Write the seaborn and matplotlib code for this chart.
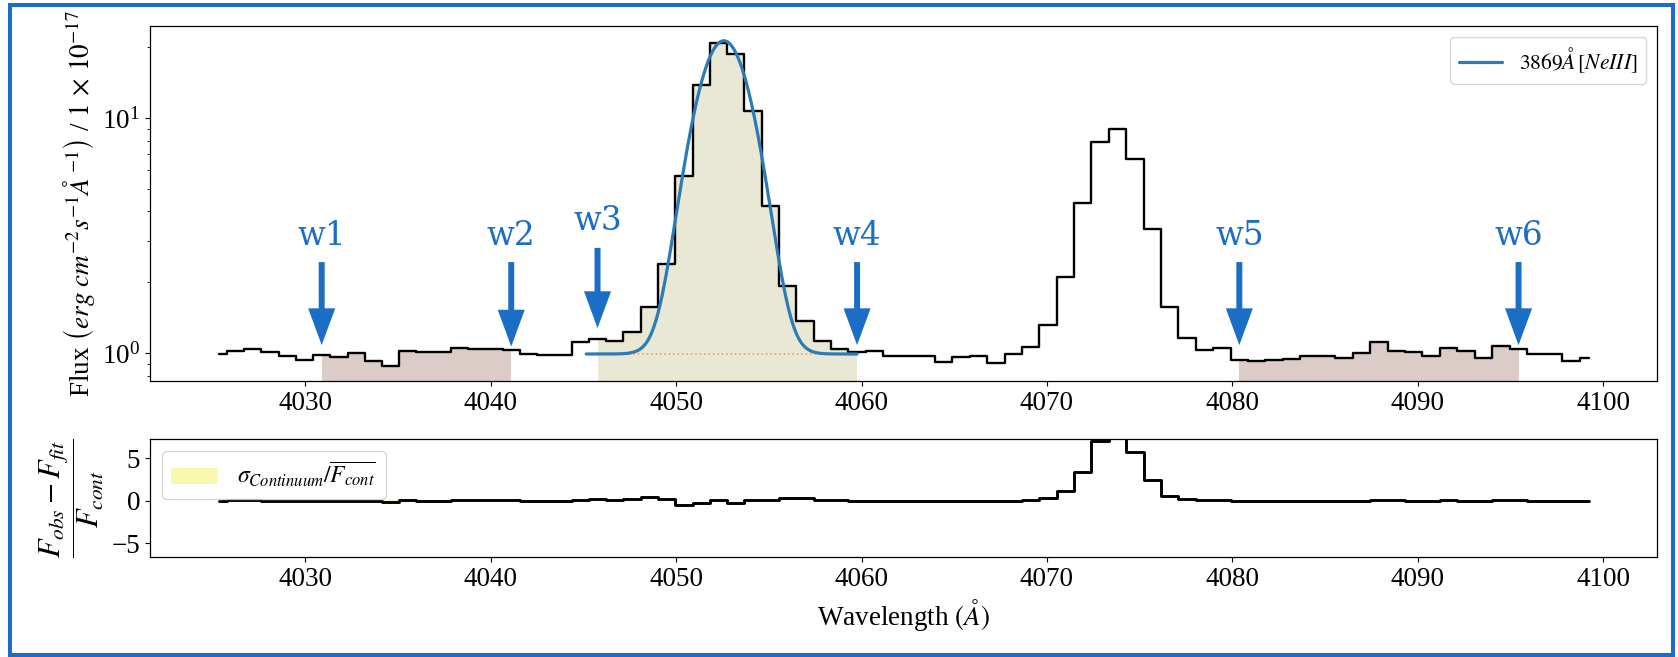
import numpy as np
import matplotlib
matplotlib.use("Agg")
import matplotlib.pyplot as plt
import seaborn as sns
from matplotlib.patches import Rectangle, FancyArrowPatch

# ---------------------------------------------------------------------------
# Spectrum: SDSS-style log-linear pixel grid (10^-4 dex per pixel)
# ---------------------------------------------------------------------------
loglam_start = 3.6048
loglam_step = 1e-4

flux = [
    0.990, 1.022, 1.036, 1.013, 0.968, 0.934, 0.981, 0.964, 1.003, 0.927,
    0.883, 1.020, 1.006, 1.006, 1.053, 1.040, 1.040, 1.026, 0.987, 0.985,
    0.980, 1.110, 1.146, 1.128, 1.231, 1.563, 2.400, 5.650, 13.80, 20.90,
    18.70, 10.75, 4.210, 1.930, 1.371, 1.128, 1.040, 1.013, 1.015, 0.968,
    0.968, 0.968, 0.918, 0.958, 0.968, 0.907, 0.990, 1.064, 1.315, 2.095,
    4.360, 7.910, 8.960, 6.700, 3.380, 1.563, 1.154, 1.025, 1.045, 0.932,
    0.920, 0.937, 0.943, 0.971, 0.971, 0.949, 0.997, 1.110, 1.023, 1.007,
    0.974, 1.050, 1.016, 0.952, 1.067, 1.040, 0.990, 0.990, 0.925, 0.952,
]

# Single-Gaussian fit of [NeIII] 3869 plus flat continuum
fit_center = 4052.57
fit_amplitude = 20.3
fit_sigma = 1.30
continuum_level = 0.99
fit_start = 4045.15

# Pixel-index windows: blue continuum (w1-w2), line (w3-w4), red continuum (w5-w6)
blue_window = (6, 17)
line_window = (22, 37)
red_window = (59, 75)
window_labels = ["w1", "w2", "w3", "w4", "w5", "w6"]

line_label = r"$3869\AA\,[NeIII]$"
sigma_label = r"$\sigma_{Continuum}/\overline{F_{cont}}$"

# ---------------------------------------------------------------------------
flux = np.asarray(flux)
wave = 10 ** (loglam_start + loglam_step * np.arange(flux.size))


def gaussian(x):
    return fit_amplitude * np.exp(-0.5 * ((x - fit_center) / fit_sigma) ** 2)


fit_x = np.linspace(fit_start, wave[line_window[1]], 400)
fit_y = continuum_level + gaussian(fit_x)
residual = (flux - (continuum_level + gaussian(wave))) / continuum_level
cont_idx = np.r_[blue_window[0]:blue_window[1] + 1, red_window[0]:red_window[1] + 1]
sigma_cont = np.std(flux[cont_idx]) / np.mean(flux[cont_idx])

# ---------------------------------------------------------------------------
sns.set_style("ticks")
plt.rcParams.update({
    "font.family": "serif",
    "font.serif": ["Liberation Serif", "DejaVu Serif"],
    "mathtext.fontset": "stix",
    "text.color": "black",
    "axes.labelcolor": "black",
    "axes.edgecolor": "black",
    "axes.linewidth": 0.9,
    "xtick.color": "black",
    "ytick.color": "black",
    "xtick.labelsize": 19.5,
    "ytick.labelsize": 19.5,
    "axes.labelsize": 19.5,
    "xtick.major.size": 3.5,
    "ytick.major.size": 3.5,
    "ytick.minor.size": 2.0,
    "xtick.major.width": 0.8,
    "ytick.major.width": 0.8,
    "ytick.minor.width": 0.6,
})

BLUE = "#1b6ec6"
FIT_BLUE = "#2c7bb6"

fig = plt.figure(figsize=(16.78, 6.57), dpi=100)
ax = fig.add_axes([0.0894, 0.4201, 0.8981, 0.5403])
ax2 = fig.add_axes([0.0894, 0.1522, 0.8981, 0.1796], sharex=ax)

# --- upper panel: spectrum, windows and fit --------------------------------
for (i0, i1), col in [(blue_window, (0.549, 0.337, 0.294, 0.30)),
                      (red_window, (0.549, 0.337, 0.294, 0.30)),
                      (line_window, "#e9e8d4")]:
    ax.fill_between(wave[i0:i1 + 1], 0.5, flux[i0:i1 + 1], step="mid",
                    color=col, lw=0, zorder=1)

sns.lineplot(x=wave, y=flux, drawstyle="steps-mid", color="black", lw=1.7,
             estimator=None, sort=False, ax=ax, zorder=3)
ax.hlines(continuum_level, wave[line_window[0]], wave[line_window[1]],
          colors="#f2a25e", linestyles=":", lw=1.2, zorder=2)
sns.lineplot(x=fit_x, y=fit_y, color=FIT_BLUE, lw=2.3, label=line_label,
             estimator=None, sort=False, ax=ax, zorder=4)

ax.set_yscale("log")
ax.set_ylim(0.76, 24.6)
span = wave[-1] - wave[0]
ax.set_xlim(wave[0] - 0.05 * span, wave[-1] + 0.05 * span)
ax.set_xticks(np.arange(4030, 4101, 10))
ax.set_ylabel(r"Flux $\left(erg\;cm^{-2}s^{-1}\AA^{-1}\right)$ / $1\,\times\,10^{-17}$",
              fontsize=19.5)
ax.set_xlabel("")
ax.legend(loc="upper right", fontsize=15.5, frameon=True)

# window markers
edges = [blue_window[0], blue_window[1], line_window[0], line_window[1],
         red_window[0], red_window[1]]
tip_frac = [0.101, 0.097, 0.149, 0.101, 0.101, 0.101]
tail_frac = [0.335, 0.335, 0.375, 0.335, 0.335, 0.335]
text_frac = [0.383, 0.383, 0.425, 0.383, 0.383, 0.383]
xtrans = ax.get_xaxis_transform()
for idx, lab, tip, tail, ty in zip(edges, window_labels, tip_frac, tail_frac, text_frac):
    x = wave[idx]
    arrow = FancyArrowPatch((x, tail), (x, tip), transform=xtrans,
                            arrowstyle="simple,head_length=26.5,head_width=19.5,tail_width=4.3",
                            mutation_scale=1, color=BLUE, lw=0,
                            shrinkA=0, shrinkB=0, zorder=6)
    ax.add_patch(arrow)
    ax.text(x, ty, lab, transform=xtrans, ha="center", va="baseline",
            color=BLUE, fontsize=23.5, family="DejaVu Serif", zorder=6)

# --- lower panel: normalised residuals -------------------------------------
for i0, i1 in (blue_window, red_window):
    band = ax2.fill_between(wave[i0:i1 + 1], -sigma_cont, sigma_cont, step="mid",
                            color="#f7f79a", alpha=0.8, lw=0, zorder=1)
band.set_label(sigma_label)
sns.lineplot(x=wave, y=residual, drawstyle="steps-mid", color="black", lw=2.1,
             estimator=None, sort=False, ax=ax2, zorder=3)
ax2.set_ylim(-6.62, 7.26)
ax2.set_yticks([-5, 0, 5])
ax2.set_xlabel(r"Wavelength $(\AA)$", fontsize=19.5)
ax2.set_ylabel(r"$\dfrac{F_{obs}-F_{fit}}{F_{cont}}$", fontsize=22)
ax2.legend(handles=[band], loc="upper left", fontsize=17, frameon=True)
ax2.tick_params(axis="x", labelbottom=True)
ax.tick_params(axis="x", labelbottom=True)

# outer frame
fig.patches.append(Rectangle((0.006, 0.003), 0.9913, 0.9894, transform=fig.transFigure,
                             fill=False, edgecolor=BLUE, lw=2.9, zorder=10))

fig.savefig("out.png", dpi=100)
